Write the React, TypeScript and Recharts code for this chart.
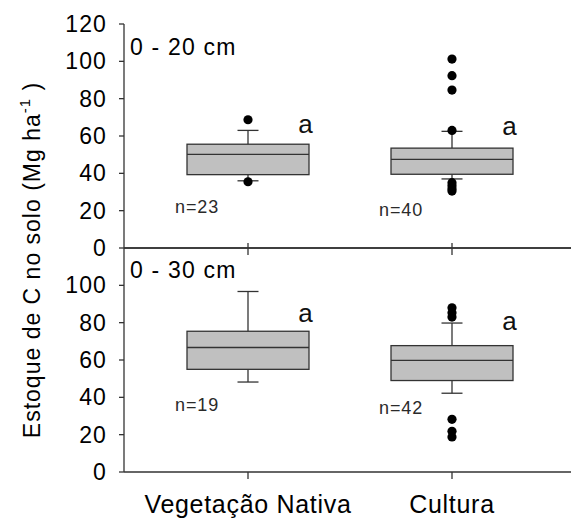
import React from "react";
import { ComposedChart, Bar, Scatter, XAxis, YAxis } from "recharts";

// ---- data ----
const categories = ["Vegetação Nativa", "Cultura"];

// 0 - 20 cm
const topQ1 = [39.3, 39.5];
const topMedian = [50.2, 47.5];
const topQ3 = [55.6, 53.5];
const topWhiskerLow = [36, 37];
const topWhiskerHigh = [63, 62.5];
const topOutliersVN = [68.7, 35.5];
const topOutliersCult = [101.2, 92.3, 84.6, 63, 35, 33.3, 31.8, 30.5];
const topN = ["n=23", "n=40"];
const topLetters = ["a", "a"];
const topLetterAt = [65, 64];
const topNAt = [18.7, 17];

// 0 - 30 cm
const botQ1 = [55, 49];
const botMedian = [66.7, 59.8];
const botQ3 = [75.4, 67.7];
const botWhiskerLow = [48.2, 42.2];
const botWhiskerHigh = [96.7, 79.8];
const botOutliersVN: number[] = [];
const botOutliersCult = [88, 85.3, 83, 28.2, 21.8, 18.8];
const botN = ["n=19", "n=42"];
const botLetters = ["a", "a"];
const botLetterAt = [84, 79.5];
const botNAt = [32.8, 31];

const yTicksTop = [0, 20, 40, 60, 80, 100, 120];
const yTicksBot = [0, 20, 40, 60, 80, 100];

const FONT = "'Liberation Sans', Arial, sans-serif";
const AXIS = "#333";

function buildRows(q1: number[], med: number[], q3: number[], lo: number[], hi: number[], n: string[], letters: string[], letterAt: number[], nAt: number[]) {
  return categories.map((cat, i) => ({
    cat,
    box: [q1[i], q3[i]],
    q1: q1[i],
    q3: q3[i],
    med: med[i],
    lo: lo[i],
    hi: hi[i],
    n: n[i],
    letter: letters[i],
    letterAt: letterAt[i],
    nAt: nAt[i],
  }));
}

function buildOutliers(vn: number[], cult: number[]) {
  return [
    ...vn.map((v) => ({ cat: categories[0], v })),
    ...cult.map((v) => ({ cat: categories[1], v })),
  ];
}

const topRows = buildRows(topQ1, topMedian, topQ3, topWhiskerLow, topWhiskerHigh, topN, topLetters, topLetterAt, topNAt);
const botRows = buildRows(botQ1, botMedian, botQ3, botWhiskerLow, botWhiskerHigh, botN, botLetters, botLetterAt, botNAt);
const topOut = buildOutliers(topOutliersVN, topOutliersCult);
const botOut = buildOutliers(botOutliersVN, botOutliersCult);

const BoxShape = (props: any) => {
  const { x, y, width, height, payload } = props;
  const top = Math.min(y, y + height);
  const h = Math.abs(height);
  const { q1, q3, med, lo, hi, n, letter, letterAt, nAt } = payload;
  const py = (v: number) => top + h - ((v - q1) / (q3 - q1)) * h;
  const cx = x + width / 2;
  const cap = 10.5;
  return (
    <g>
      <line x1={cx} x2={cx} y1={py(q3)} y2={py(hi)} stroke={AXIS} strokeWidth={1.3} />
      <line x1={cx - cap} x2={cx + cap} y1={py(hi)} y2={py(hi)} stroke={AXIS} strokeWidth={1.3} />
      <line x1={cx} x2={cx} y1={py(q1)} y2={py(lo)} stroke={AXIS} strokeWidth={1.3} />
      <line x1={cx - cap} x2={cx + cap} y1={py(lo)} y2={py(lo)} stroke={AXIS} strokeWidth={1.3} />
      <rect x={x} y={top} width={width} height={h} fill="#c0c0c0" stroke={AXIS} strokeWidth={1.3} />
      <line x1={x} x2={x + width} y1={py(med)} y2={py(med)} stroke={AXIS} strokeWidth={1.3} />
      <text x={x + width - 3.5} y={py(letterAt) + 6.5} textAnchor="middle" fontSize={26} fontFamily={FONT} fill="#111">
        {letter}
      </text>
      <text x={x - 12} y={py(nAt)} textAnchor="start" fontSize={18} letterSpacing={0.9} fontFamily={FONT} fill="#2a2a2a">
        {n}
      </text>
    </g>
  );
};

const Dot = (props: any) => {
  const { cx, cy } = props;
  if (cx == null || cy == null) return null;
  return <circle cx={cx} cy={cy} r={4.6} fill="#000" />;
};

const yTick = { fontSize: 23, fill: "#000", fontFamily: FONT, letterSpacing: 1.1 } as any;

export default function App() {
  return (
    <div style={{ position: "absolute", left: 0, top: 0, width: 571, height: 519, background: "#fff", fontFamily: FONT }}>
      {/* upper panel: 0 - 20 cm */}
      <div style={{ position: "absolute", left: 0, top: 0 }}>
        <ComposedChart width={571} height={260} data={topRows} margin={{ top: 24, right: 0, bottom: 0, left: 0 }}>
          <XAxis
            dataKey="cat"
            type="category"
            allowDuplicatedCategory={false}
            height={12}
            padding={{ left: 22, right: 17 }}
            tickSize={7}
            tickFormatter={() => ""}
            axisLine={{ stroke: AXIS, strokeWidth: 1.3 }}
            tickLine={{ stroke: AXIS, strokeWidth: 1.3 }}
          />
          <XAxis
            xAxisId="t"
            dataKey="cat"
            type="category"
            allowDuplicatedCategory={false}
            orientation="top"
            height={0}
            padding={{ left: 22, right: 17 }}
            tick={false}
            tickLine={false}
            axisLine={{ stroke: AXIS, strokeWidth: 1.3 }}
          />
          <YAxis
            type="number"
            domain={[0, 120]}
            ticks={yTicksTop}
            width={124}
            tickSize={5}
            tickMargin={12}
            interval={0}
            tick={yTick}
            axisLine={{ stroke: AXIS, strokeWidth: 1.3 }}
            tickLine={{ stroke: AXIS, strokeWidth: 1.3 }}
          />
          <Bar dataKey="box" barSize={122} shape={<BoxShape />} isAnimationActive={false} />
          <Scatter data={topOut} dataKey="v" shape={<Dot />} isAnimationActive={false} />
        </ComposedChart>
      </div>
      {/* lower panel: 0 - 30 cm */}
      <div style={{ position: "absolute", left: 0, top: 236 }}>
        <ComposedChart width={571} height={283} data={botRows} margin={{ top: 0, right: 0, bottom: 0, left: 0 }}>
          <XAxis
            dataKey="cat"
            type="category"
            allowDuplicatedCategory={false}
            height={47}
            padding={{ left: 22, right: 17 }}
            tickSize={7}
            tickMargin={16}
            interval={0}
            tick={{ fontSize: 25, fill: "#000", fontFamily: FONT, letterSpacing: 0.7 } as any}
            axisLine={{ stroke: AXIS, strokeWidth: 1.3 }}
            tickLine={{ stroke: AXIS, strokeWidth: 1.3 }}
          />
          <XAxis
            xAxisId="t"
            dataKey="cat"
            type="category"
            allowDuplicatedCategory={false}
            orientation="top"
            height={12}
            padding={{ left: 22, right: 17 }}
            tickSize={5}
            tickFormatter={() => ""}
            axisLine={{ stroke: AXIS, strokeWidth: 1.3 }}
            tickLine={{ stroke: AXIS, strokeWidth: 1.3 }}
          />
          <YAxis
            type="number"
            domain={[0, 120]}
            ticks={yTicksBot}
            width={124}
            tickSize={5}
            tickMargin={12}
            interval={0}
            tick={yTick}
            axisLine={{ stroke: AXIS, strokeWidth: 1.3 }}
            tickLine={{ stroke: AXIS, strokeWidth: 1.3 }}
          />
          <Bar dataKey="box" barSize={122} shape={<BoxShape />} isAnimationActive={false} />
          <Scatter data={botOut} dataKey="v" shape={<Dot />} isAnimationActive={false} />
        </ComposedChart>
      </div>
      {/* overlay texts */}
      <svg width={571} height={519} style={{ position: "absolute", left: 0, top: 0, pointerEvents: "none" }}>
        <text x={130} y={55} fontSize={23} letterSpacing={1.2} fontFamily={FONT} fill="#000">0 - 20 cm</text>
        <text x={130} y={278} fontSize={23} letterSpacing={1.2} fontFamily={FONT} fill="#000">0 - 30 cm</text>
        <text
          transform="translate(40, 260) rotate(-90)"
          textAnchor="middle"
          fontSize={23}
          letterSpacing={1}
          fontFamily={FONT}
          fill="#000"
        >
          Estoque de C no solo (Mg ha
          <tspan fontSize={15} dy={-10}>-1</tspan>
          <tspan dy={10}> )</tspan>
        </text>
      </svg>
    </div>
  );
}
